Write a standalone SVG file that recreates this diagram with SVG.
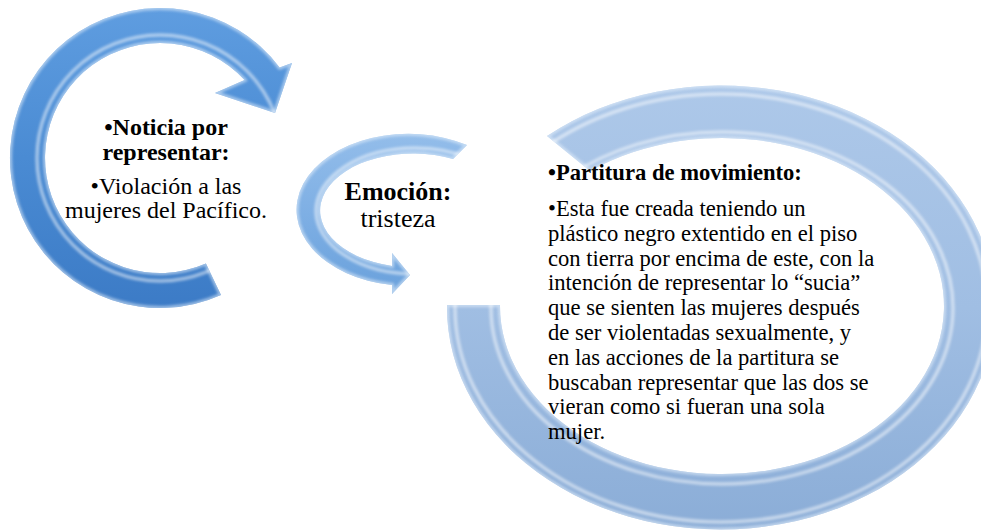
<svg xmlns="http://www.w3.org/2000/svg" xmlns:xlink="http://www.w3.org/1999/xlink" width="981" height="531" viewBox="0 0 981 531">
<style>
  text { font-family: "Liberation Serif", "Times New Roman", serif; fill: #000; }
  .b { font-weight: bold; }
  .rim { fill: none; stroke: #e8f2fc; stroke-width: 4; opacity: 0.6; }
  .shine { fill: none; stroke: #ffffff; stroke-width: 3; opacity: 0.6; }
</style>
<defs>
  <linearGradient id="g1" x1="0" y1="0" x2="0" y2="1">
    <stop offset="0" stop-color="#5f9de0"/>
    <stop offset="0.5" stop-color="#4a8bd3"/>
    <stop offset="1" stop-color="#3c7bc6"/>
  </linearGradient>
  <linearGradient id="g2" x1="0" y1="0" x2="0" y2="1">
    <stop offset="0" stop-color="#93bdea"/>
    <stop offset="0.5" stop-color="#7eafe4"/>
    <stop offset="1" stop-color="#6aa1dc"/>
  </linearGradient>
  <linearGradient id="g3" x1="0" y1="0" x2="0" y2="1">
    <stop offset="0" stop-color="#adc8e9"/>
    <stop offset="0.5" stop-color="#a0bee3"/>
    <stop offset="1" stop-color="#8badd7"/>
  </linearGradient>
  <filter id="soft" x="-10%" y="-10%" width="120%" height="120%">
    <feGaussianBlur stdDeviation="1.5"/>
  </filter>
  <path id="a1" d="M 221 295 A 150 150 0 1 1 279.6 67.5 L 292 63 L 275 113 L 215 93 L 244.6 80.1 A 115 115 0 1 0 205.9 263.5 Z"/>
  <path id="a2" d="M 467 145 A 112 76 0 1 0 392 285 L 392 294 L 410 275 L 392 253 L 392 266 A 93 57 0 1 1 453 159 Z"/>
  <path id="a3" d="M 447 305 A 274 222 0 1 0 547 136 L 590 171 A 222 168 0 1 1 500 305 Z"/>
  <clipPath id="c1"><use xlink:href="#a1"/></clipPath>
  <clipPath id="c2"><use xlink:href="#a2"/></clipPath>
  <clipPath id="c3"><use xlink:href="#a3"/></clipPath>
</defs>
<rect width="981" height="531" fill="#ffffff"/>

<g id="node-partitura">
  <use xlink:href="#a3" fill="url(#g3)"/>
  <g clip-path="url(#c3)">
    <use xlink:href="#a3" class="rim" filter="url(#soft)"/>
    <ellipse cx="722" cy="308" rx="231" ry="176" class="shine" filter="url(#soft)"/>
    <ellipse cx="721" cy="308" rx="266" ry="214" class="shine" opacity="0.35" filter="url(#soft)"/>
  </g>
  <text x="548" y="180" font-size="22.6" class="b">•Partitura de movimiento:</text>
  <text font-size="22.6">
    <tspan x="548" y="216">•Esta fue creada teniendo un</tspan>
    <tspan x="548" y="240.8">plástico negro extentido en el piso</tspan>
    <tspan x="548" y="265.6">con tierra por encima de este, con la</tspan>
    <tspan x="548" y="290.4">intención de representar lo “sucia”</tspan>
    <tspan x="548" y="315.2">que se sienten las mujeres después</tspan>
    <tspan x="548" y="340">de ser violentadas sexualmente, y</tspan>
    <tspan x="548" y="364.8">en las acciones de la partitura se</tspan>
    <tspan x="548" y="389.6">buscaban representar que las dos se</tspan>
    <tspan x="548" y="414.4">vieran como si fueran una sola</tspan>
    <tspan x="548" y="439.2">mujer.</tspan>
  </text>
</g>

<g id="node-emocion">
  <use xlink:href="#a2" fill="url(#g2)"/>
  <g clip-path="url(#c2)">
    <use xlink:href="#a2" class="rim" filter="url(#soft)"/>
    <ellipse cx="415" cy="211" rx="99" ry="63" class="shine" filter="url(#soft)"/>
  </g>
  <text x="398" y="200" font-size="26" text-anchor="middle" class="b">Emoción:</text>
  <text x="398" y="227" font-size="26" text-anchor="middle">tristeza</text>
</g>

<g id="node-noticia">
  <use xlink:href="#a1" fill="url(#g1)"/>
  <g clip-path="url(#c1)">
    <use xlink:href="#a1" class="rim" filter="url(#soft)" opacity="0.45"/>
    <circle cx="160" cy="158" r="123" class="shine" opacity="0.45" filter="url(#soft)"/>
  </g>
  <text x="166" y="135" font-size="24" text-anchor="middle" class="b">•Noticia por</text>
  <text x="166" y="160" font-size="24" text-anchor="middle" class="b">representar:</text>
  <text x="166" y="194" font-size="24" text-anchor="middle">•Violación a las</text>
  <text x="166" y="218" font-size="24" text-anchor="middle">mujeres del Pacífico.</text>
</g>

<g id="connectors"/>
</svg>
